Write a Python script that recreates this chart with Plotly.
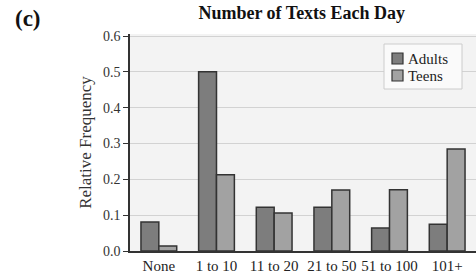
import plotly.graph_objects as go

categories = ["None", "1 to 10", "11 to 20", "21 to 50", "51 to 100", "101+"]
adults = [0.081, 0.500, 0.122, 0.122, 0.064, 0.075]
teens = [0.014, 0.213, 0.106, 0.170, 0.171, 0.285]
y_ticks = [0.0, 0.1, 0.2, 0.3, 0.4, 0.5, 0.6]
series_names = ["Adults", "Teens"]
series_colors = ["#7d7d7d", "#a2a2a2"]

FONT = "Liberation Serif, Times New Roman, serif"
W, H = 476, 276
ML, MR, MT, MB = 130, 0, 34, 25
PW, PH = W - ML - MR, H - MT - MB


def px(x):
    return (x - ML) / PW


def py(y):
    return 1 - (y - MT) / PH


fig = go.Figure()
for name, vals, col in zip(series_names, [adults, teens], series_colors):
    fig.add_trace(go.Bar(x=categories, y=vals, name=name, showlegend=False,
                         marker=dict(color=col, line=dict(color="#333333", width=1.5))))

fig.update_layout(
    width=W, height=H,
    margin=dict(l=ML, r=MR, t=MT, b=MB),
    paper_bgcolor="white",
    plot_bgcolor="#f3f3f3",
    barmode="group",
    bargap=0.38,
    bargroupgap=0,
    font=dict(family=FONT, color="#222222"),
    title=dict(text="<b>Number of Texts Each Day</b>", x=0.634, xanchor="center",
               y=0.953, yanchor="middle", font=dict(family=FONT, size=18, color="#111111")),
    showlegend=False,
)
fig.update_xaxes(
    showline=True, linecolor="#333333", linewidth=1.5,
    tickfont=dict(family=FONT, size=15, color="#222222"),
    ticks="", showgrid=False,
)
fig.update_yaxes(
    range=[0, 0.6056], tickvals=y_ticks, tickformat=".1f",
    showline=True, linecolor="#333333", linewidth=1.5,
    ticks="outside", ticklen=5, tickcolor="#333333",
    showgrid=True, gridcolor="#d2d2d2", gridwidth=1,
    zeroline=False,
    tickfont=dict(family=FONT, size=14, color="#333333"),
    title=dict(text="Relative Frequency", font=dict(family=FONT, size=17, color="#333333"), standoff=7),
)
fig.add_annotation(text="<b>(c)</b>", xref="paper", yref="paper", x=px(28), y=py(18),
                   xanchor="center", yanchor="middle", showarrow=False,
                   font=dict(family=FONT, size=23, color="#111111"))

# manual legend box
fig.add_shape(type="rect", xref="paper", yref="paper",
              x0=px(384), x1=px(462), y0=py(44), y1=py(89),
              fillcolor="#fafafa", line=dict(color="#cccccc", width=1), layer="above")
sw_y = [(53, 64), (70, 81)]
for (y0, y1), name, col in zip(sw_y, series_names, series_colors):
    fig.add_shape(type="rect", xref="paper", yref="paper",
                  x0=px(392), x1=px(403), y0=py(y0), y1=py(y1),
                  fillcolor=col, line=dict(color="#333333", width=1.2), layer="above")
    fig.add_annotation(text=name, xref="paper", yref="paper", x=px(406), y=py((y0 + y1) / 2),
                       xanchor="left", yanchor="middle", showarrow=False,
                       font=dict(family=FONT, size=15, color="#222222"))

fig.write_html("out.html", config={"displayModeBar": False},
               post_script="document.body.style.margin='0px';")
